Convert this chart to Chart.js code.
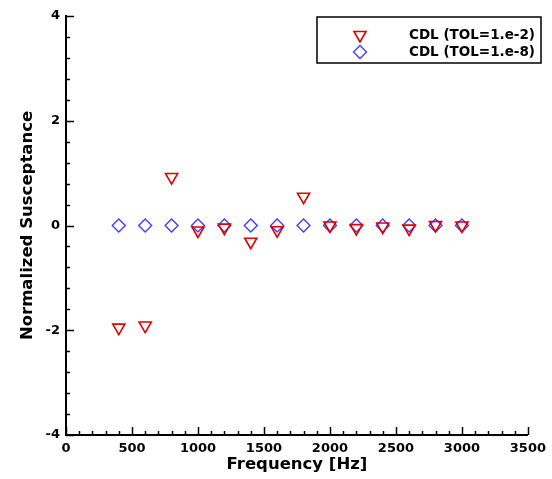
<!DOCTYPE html>
<html>
<head>
<meta charset="utf-8">
<script src="https://cdn.jsdelivr.net/npm/chart.js@4.4.1/dist/chart.umd.min.js"></script>
<style>
  html, body { margin: 0; padding: 0; background: #fff; }
  #wrap { position: relative; width: 552px; height: 479px; }
</style>
</head>
<body>
<div id="wrap"><canvas id="chart"></canvas></div>
<script>
// frequencies [Hz] and normalized susceptance
const freqs = [400, 600, 800, 1000, 1200, 1400, 1600, 1800, 2000, 2200, 2400, 2600, 2800, 3000];
const tol2Values = [-1.95, -1.91, 0.925, -0.095, -0.04, -0.31, -0.09, 0.55, 0.0, -0.05, -0.02, -0.06, 0.01, 0.0];
const tol8Values = [0, 0, 0, 0, 0, 0, 0, 0, 0, 0, 0, 0, 0, 0];
const seriesLabels = ["CDL (TOL=1.e-2)", "CDL (TOL=1.e-8)"];
const xMajorTicks = [0, 500, 1000, 1500, 2000, 2500, 3000, 3500];
const yMajorTicks = [-4, -2, 0, 2, 4];

const RED = "#dd0000";
const BLUE = "#4040ff";
const FONT = "'DejaVu Sans', sans-serif";

const toPoints = (ys) => freqs.map((x, i) => ({ x, y: ys[i] }));
const isMajor = (v, list) => list.some((m) => Math.abs(m - v) < 1e-6);

// tecplot-style inward tick marks
const inwardTicks = {
  id: "inwardTicks",
  afterDraw(chart) {
    const { ctx, chartArea: a, scales } = chart;
    ctx.save();
    ctx.strokeStyle = "#000";
    ctx.lineWidth = 1.5;
    scales.x.ticks.forEach((t) => {
      const px = Math.round(scales.x.getPixelForValue(t.value)) + 0.5;
      const len = isMajor(t.value, xMajorTicks) ? 8 : 4;
      ctx.beginPath();
      ctx.moveTo(px, a.bottom);
      ctx.lineTo(px, a.bottom - len);
      ctx.stroke();
    });
    scales.y.ticks.forEach((t) => {
      const py = Math.round(scales.y.getPixelForValue(t.value)) + 0.5;
      const len = isMajor(t.value, yMajorTicks) ? 8 : 4;
      ctx.beginPath();
      ctx.moveTo(a.left, py);
      ctx.lineTo(a.left + len, py);
      ctx.stroke();
    });
    ctx.restore();
  },
};

// boxed legend in the upper right corner
const boxLegend = {
  id: "boxLegend",
  afterDraw(chart) {
    const { ctx } = chart;
    const box = { x: 317, y: 17, w: 224, h: 46 };
    ctx.save();
    ctx.fillStyle = "#fff";
    ctx.fillRect(box.x, box.y, box.w, box.h);
    ctx.strokeStyle = "#000";
    ctx.lineWidth = 1.5;
    ctx.strokeRect(box.x, box.y, box.w, box.h);
    chart.data.datasets.forEach((ds, i) => {
      const y = box.y + 18 + i * 17;
      ctx.strokeStyle = ds.borderColor;
      ctx.fillStyle = "rgba(0,0,0,0)";
      ctx.lineWidth = ds.borderWidth;
      Chart.helpers.drawPoint(ctx, {
        pointStyle: ds.pointStyle,
        radius: ds.pointRadius,
        rotation: ds.rotation || 0,
        borderWidth: ds.borderWidth,
      }, 360, y);
      ctx.fillStyle = "#000";
      ctx.font = "bold 13.5px " + FONT;
      ctx.textAlign = "right";
      ctx.textBaseline = "middle";
      ctx.fillText(ds.label, 535, y);
    });
    ctx.restore();
  },
};

new Chart(document.getElementById("chart"), {
  type: "scatter",
  data: {
    datasets: [
      {
        label: seriesLabels[0],
        data: toPoints(tol2Values),
        pointStyle: "triangle",
        rotation: 180,
        pointRadius: 7,
        borderColor: RED,
        backgroundColor: "rgba(0,0,0,0)",
        borderWidth: 1.6,
      },
      {
        label: seriesLabels[1],
        data: toPoints(tol8Values),
        pointStyle: "rectRot",
        pointRadius: 6.5,
        borderColor: BLUE,
        backgroundColor: "rgba(0,0,0,0)",
        borderWidth: 1.4,
      },
    ],
  },
  options: {
    animation: false,
    responsive: true,
    maintainAspectRatio: false,
    layout: { padding: { top: 16, right: 24, left: 0, bottom: 0 } },
    plugins: { legend: { display: false }, tooltip: { enabled: false } },
    scales: {
      x: {
        type: "linear",
        min: 0,
        max: 3500,
        afterFit: (s) => { s.height = 44; },
        grid: { display: false, drawTicks: false },
        border: { display: true, color: "#000", width: 2 },
        ticks: {
          stepSize: 100,
          autoSkip: false,
          maxRotation: 0,
          padding: 6,
          color: "#000",
          font: { family: FONT, size: 13, weight: "bold" },
          callback: (v) => (isMajor(v, xMajorTicks) ? String(v) : ""),
        },
        title: {
          display: true,
          text: "Frequency [Hz]",
          color: "#000",
          font: { family: FONT, size: 16.5, weight: "bold" },
          padding: { top: 0, bottom: 4 },
        },
      },
      y: {
        type: "linear",
        min: -4,
        max: 4,
        afterFit: (s) => { s.width = 66; },
        grid: { display: false, drawTicks: false },
        border: { display: true, color: "#000", width: 2 },
        ticks: {
          stepSize: 0.4,
          autoSkip: false,
          padding: 6,
          color: "#000",
          font: { family: FONT, size: 13, weight: "bold" },
          callback: (v) => (isMajor(v, yMajorTicks) ? String(Math.round(v)) : ""),
        },
        title: {
          display: true,
          text: "Normalized Susceptance",
          color: "#000",
          font: { family: FONT, size: 16.5, weight: "bold" },
          padding: { top: 18, bottom: 0 },
        },
      },
    },
  },
  plugins: [inwardTicks, boxLegend],
});
</script>
</body>
</html>
